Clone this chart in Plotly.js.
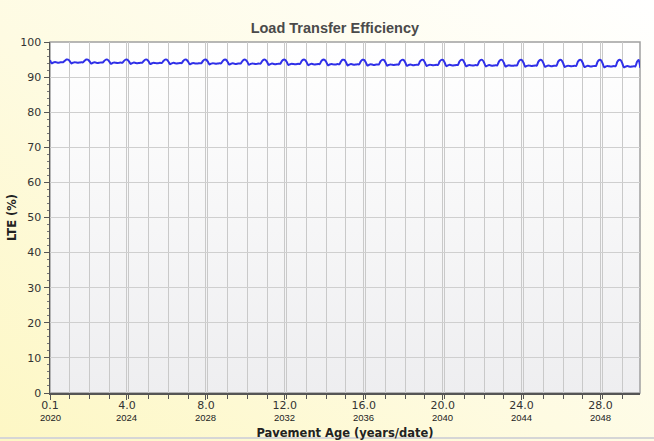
<!DOCTYPE html>
<html>
<head>
<meta charset="utf-8">
<script src="https://cdn.plot.ly/plotly-3.0.1.min.js"></script>
<style>
  html, body { margin: 0; padding: 0; }
  body { width: 654px; height: 441px; overflow: hidden;
         background: linear-gradient(35deg, #fdf7c4 0%, #fefbe2 45%, #ffffff 100%); }
  #chart { width: 654px; height: 441px; }
</style>
</head>
<body>
<div id="chart"></div>
<script>
// Monthly LTE (%) values, one row per year of pavement age (12 months each)
const lteByYear = [
  [94.80, 93.95, 94.15, 94.30, 94.20, 94.12, 94.18, 94.26, 94.22, 94.65, 95.00, 94.98],
  [94.55, 93.88, 94.10, 94.26, 94.16, 94.08, 94.14, 94.22, 94.18, 94.64, 95.00, 94.97],
  [94.52, 93.84, 94.06, 94.22, 94.12, 94.04, 94.10, 94.18, 94.14, 94.62, 94.99, 94.97],
  [94.50, 93.80, 94.02, 94.18, 94.08, 94.00, 94.06, 94.14, 94.10, 94.62, 94.99, 94.96],
  [94.48, 93.76, 93.98, 94.14, 94.04, 93.96, 94.02, 94.10, 94.06, 94.60, 94.98, 94.96],
  [94.46, 93.72, 93.94, 94.10, 94.00, 93.92, 93.98, 94.06, 94.02, 94.60, 94.98, 94.95],
  [94.44, 93.68, 93.90, 94.06, 93.96, 93.88, 93.94, 94.02, 93.98, 94.58, 94.97, 94.95],
  [94.42, 93.64, 93.86, 94.02, 93.92, 93.84, 93.90, 93.98, 93.94, 94.58, 94.97, 94.94],
  [94.40, 93.60, 93.82, 93.98, 93.88, 93.80, 93.86, 93.94, 93.90, 94.56, 94.96, 94.94],
  [94.38, 93.56, 93.78, 93.94, 93.84, 93.76, 93.82, 93.90, 93.86, 94.56, 94.96, 94.93],
  [94.36, 93.52, 93.74, 93.90, 93.80, 93.72, 93.78, 93.86, 93.82, 94.54, 94.95, 94.93],
  [94.34, 93.48, 93.70, 93.86, 93.76, 93.68, 93.74, 93.82, 93.78, 94.54, 94.95, 94.92],
  [94.32, 93.44, 93.66, 93.82, 93.72, 93.64, 93.70, 93.78, 93.74, 94.52, 94.94, 94.92],
  [94.30, 93.40, 93.62, 93.78, 93.68, 93.60, 93.66, 93.74, 93.70, 94.52, 94.94, 94.91],
  [94.28, 93.36, 93.58, 93.74, 93.64, 93.56, 93.62, 93.70, 93.66, 94.50, 94.93, 94.91],
  [94.26, 93.32, 93.54, 93.70, 93.60, 93.52, 93.58, 93.66, 93.62, 94.50, 94.93, 94.90],
  [94.24, 93.28, 93.50, 93.66, 93.56, 93.48, 93.54, 93.62, 93.58, 94.48, 94.92, 94.90],
  [94.22, 93.24, 93.46, 93.62, 93.52, 93.44, 93.50, 93.58, 93.54, 94.48, 94.92, 94.89],
  [94.20, 93.20, 93.42, 93.58, 93.48, 93.40, 93.46, 93.54, 93.50, 94.46, 94.91, 94.89],
  [94.18, 93.16, 93.38, 93.54, 93.44, 93.36, 93.42, 93.50, 93.46, 94.46, 94.91, 94.88],
  [94.16, 93.12, 93.34, 93.50, 93.40, 93.32, 93.38, 93.46, 93.42, 94.44, 94.90, 94.88],
  [94.14, 93.08, 93.30, 93.46, 93.36, 93.28, 93.34, 93.42, 93.38, 94.44, 94.90, 94.87],
  [94.12, 93.04, 93.26, 93.42, 93.32, 93.24, 93.30, 93.38, 93.34, 94.42, 94.89, 94.87],
  [94.10, 93.00, 93.22, 93.38, 93.28, 93.20, 93.26, 93.34, 93.30, 94.42, 94.89, 94.86],
  [94.08, 92.96, 93.18, 93.34, 93.24, 93.16, 93.22, 93.30, 93.26, 94.40, 94.88, 94.86],
  [94.06, 92.92, 93.14, 93.30, 93.20, 93.12, 93.18, 93.26, 93.22, 94.40, 94.88, 94.85],
  [94.04, 92.88, 93.10, 93.26, 93.16, 93.08, 93.14, 93.22, 93.18, 94.38, 94.87, 94.85],
  [94.02, 92.84, 93.06, 93.22, 93.12, 93.04, 93.10, 93.18, 93.14, 94.38, 94.87, 94.84],
  [94.00, 92.80, 93.02, 93.18, 93.08, 93.00, 93.06, 93.14, 93.10, 94.36, 94.86, 94.84],
  [94.00, 92.78, 92.98, 93.14, 93.04, 92.96, 93.02, 93.10, 93.06, 94.36, 94.86, 92.60]
];
const startAge = 0.1;          // first month, years
const monthsPerYear = 12;
const xTickVals = [0.1, 4, 8, 12, 16, 20, 24, 28];
const xTickAges = ["0.1", "4.0", "8.0", "12.0", "16.0", "20.0", "24.0", "28.0"];
const xTickDates = ["2020", "2024", "2028", "2032", "2036", "2040", "2044", "2048"];
const yTickVals = [0, 10, 20, 30, 40, 50, 60, 70, 80, 90, 100];

const lte = lteByYear.flat();
const age = lte.map((_, i) => startAge + i / monthsPerYear);

const bgSvg = '<svg xmlns="http://www.w3.org/2000/svg" width="10" height="100" preserveAspectRatio="none">' +
  '<defs><linearGradient id="g" x1="0" y1="0" x2="0" y2="1">' +
  '<stop offset="0" stop-color="#ffffff"/><stop offset="1" stop-color="#eeeef0"/></linearGradient></defs>' +
  '<rect width="10" height="100" fill="url(#g)"/></svg>';

const trace = {
  x: age, y: lte, type: 'scatter', mode: 'lines',
  line: { color: '#2f2fe8', width: 2, shape: 'spline', smoothing: 0.6 },
  hoverinfo: 'x+y', showlegend: false
};

const dateAnnotations = xTickDates.map((d, i) => ({
  x: xTickVals[i], xref: 'x', y: 0, yref: 'paper', yanchor: 'top', xanchor: 'center',
  yshift: -18, text: d, showarrow: false, borderpad: 0,
  font: { family: 'Liberation Sans Narrow, Liberation Sans, Arial, sans-serif', size: 9.5, color: '#222' }
}));

const layout = {
  width: 654, height: 441,
  margin: { l: 50, r: 14, t: 42, b: 48 },
  paper_bgcolor: 'rgba(0,0,0,0)',
  plot_bgcolor: 'rgba(0,0,0,0)',
  title: { text: '<b>Load Transfer Efficiency</b>', x: 0.512, xanchor: 'center', y: 0.936, yanchor: 'middle',
           font: { family: 'Liberation Sans, Arial, sans-serif', size: 14.5, color: '#4a4a4a' } },
  images: [{ source: 'data:image/svg+xml;charset=utf-8,' + encodeURIComponent(bgSvg),
             xref: 'paper', yref: 'paper', x: 0, y: 1, sizex: 1, sizey: 1,
             sizing: 'stretch', layer: 'below', xanchor: 'left', yanchor: 'top' }],
  annotations: dateAnnotations,
  xaxis: {
    range: [0.1, 30], tickmode: 'array', tickvals: xTickVals, ticktext: xTickAges,
    ticks: 'outside', ticklen: 5, tickcolor: '#555', tickwidth: 1, ticklabelstandoff: -4,
    showgrid: true, gridcolor: '#c9c9c9', gridwidth: 1,
    minor: { tickmode: 'linear', tick0: 0.1, dtick: 1, ticks: 'outside', ticklen: 4, tickcolor: '#555',
             showgrid: true, gridcolor: '#c9c9c9', gridwidth: 1 },
    showline: true, linecolor: '#555', linewidth: 1.5, zeroline: false,
    tickfont: { family: 'DejaVu Sans, Verdana, sans-serif', size: 11, color: '#333' },
    title: { text: '<b>Pavement Age (years/date)</b>', standoff: 18,
             font: { family: 'DejaVu Sans, Verdana, sans-serif', size: 11.5, color: '#222' } }
  },
  yaxis: {
    range: [0, 100], tickmode: 'array', tickvals: yTickVals,
    ticks: 'outside', ticklen: 5, tickcolor: '#555',
    showgrid: true, gridcolor: '#cfcfcf', gridwidth: 1,
    minor: { tickmode: 'linear', tick0: 0, dtick: 2, ticks: 'outside', ticklen: 2, tickcolor: '#777', showgrid: false },
    showline: true, linecolor: '#555', linewidth: 1.5, zeroline: false,
    tickfont: { family: 'DejaVu Sans, Verdana, sans-serif', size: 11, color: '#333' },
    title: { text: '<b>LTE (%)</b>', standoff: 1,
             font: { family: 'DejaVu Sans, Verdana, sans-serif', size: 11.5, color: '#222' } }
  },
  shapes: [
    { type: 'rect', xref: 'paper', yref: 'paper', x0: 0, x1: 1, y0: 0, y1: 1,
      line: { color: '#a0a0a0', width: 1.5 }, fillcolor: 'rgba(0,0,0,0)', layer: 'below' },
    { type: 'line', xref: 'paper', yref: 'paper', x0: -0.09, x1: 1.03, y0: -0.128, y1: -0.128,
      line: { color: '#d6d6d6', width: 2 } }
  ]
};

Plotly.newPlot('chart', [trace], layout, { displayModeBar: false, staticPlot: true });
</script>
</body>
</html>
